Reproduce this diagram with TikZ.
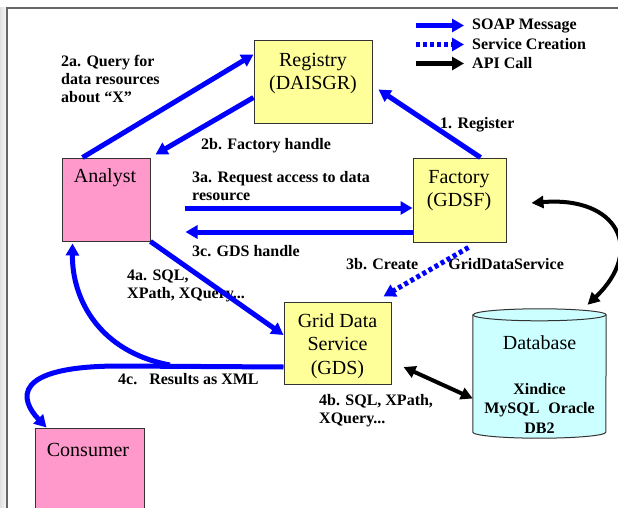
\documentclass[tikz,border=0pt]{standalone}
\usepackage{fontspec}
\setmainfont{Liberation Serif}
\usetikzlibrary{arrows.meta,positioning}
\definecolor{regyellow}{HTML}{FFFF99}
\definecolor{actpink}{HTML}{FF99CC}
\definecolor{dbcyan}{HTML}{CCFFFF}
\definecolor{soapblue}{HTML}{0000FF}

\tikzset{
  ybox/.style={draw=black!80, line width=1pt, fill=regyellow, inner sep=0pt},
  pbox/.style={draw=black!80, line width=1pt, fill=actpink, inner sep=0pt},
  boxtxt/.style={align=center, inner sep=0pt, font=\fontsize{20}{23}\selectfont},
  dbtxt/.style={align=center, inner sep=0pt, font=\bfseries\fontsize{16}{19.5}\selectfont},
  lbl/.style={align=left, inner sep=0pt, anchor=west, font=\bfseries\fontsize{16}{18}\selectfont},
  soap/.style={draw=soapblue, line width=5pt, -{Triangle[length=12pt,width=13pt]}},
  creation/.style={soap, dash pattern=on 4pt off 3pt},
  apicall/.style={draw=black, line width=4pt, {Triangle[length=12pt,width=12pt]}-{Triangle[length=12pt,width=12pt]}},
}

\begin{document}
\begin{tikzpicture}[x=1pt,y=-1pt]
\useasboundingbox (0,0) rectangle (618,508);
\shade[left color=black!12, right color=black!3] (0,8) rectangle (6.3,508);
\draw[black!60, line width=1.5pt] (618,8) -- (7,8) -- (7,508);

% boxes
\node[ybox, minimum width=118pt, minimum height=83pt] (reg) at (313,82.5) {};
\node[boxtxt] (regtxt) at (313,74) {Registry\\(DAISGR)};

\node[pbox, minimum width=88pt, minimum height=83pt] (ana) at (106,199.5) {};
\node[boxtxt] (anatxt) at (105,178) {Analyst};

\node[ybox, minimum width=93pt, minimum height=84pt] (fac) at (459.5,200) {};
\node[boxtxt] (factxt) at (459,191) {Factory\\(GDSF)};

\node[ybox, minimum width=107pt, minimum height=82pt] (gds) at (337.5,343) {};
\node[boxtxt, font=\fontsize{20}{23.5}\selectfont] (gdstxt) at (337.5,346) {Grid Data\\Service\\(GDS)};

\node[pbox, minimum width=109pt, minimum height=92pt] (con) at (89.5,474) {};
\node[boxtxt] (contxt) at (88,450) {Consumer};

% database
\node[minimum width=133pt, minimum height=129pt, inner sep=0pt] (db) at (539.5,373.5) {};
\path[draw=black!80, line width=1pt, fill=dbcyan] ([yshift=-6pt]db.north west) -- ([yshift=6pt]db.south west)
  arc[start angle=180, end angle=360, x radius=66.5pt, y radius=6pt] -- ([yshift=-6pt]db.north east)
  arc[start angle=0, end angle=180, x radius=66.5pt, y radius=6pt] -- cycle;
\draw[black!80, line width=1pt] ([yshift=-6pt]db.north west) arc[start angle=180, end angle=360, x radius=66.5pt, y radius=6pt];
\node[boxtxt] (dbtitle) at (539.5,343) {Database};
\node[dbtxt] (dbnames) at (539.5,408) {Xindice\\MySQL\hspace{9pt}Oracle\\DB2};

% labels
\node[lbl] (l2a) at (61,79) {2a. Query for\\data resources\\about “X"};
\node[lbl] (l2b) at (201,146) {2b. Factory handle};
\node[lbl] (l1) at (440,124.5) {1. Register};
\node[lbl] (l3a) at (192,186) {3a. Request access to data\\resource};
\node[lbl] (l3c) at (192,251.5) {3c. GDS handle};
\node[lbl] (l3b) at (346,264.5) {3b. Create\hspace{30pt}GridDataService};
\node[lbl] (l4a) at (127,285.5) {4a. SQL,\\XPath, XQuery...};
\node[lbl] (l4c) at (118,379.5) {4c.\hspace{12pt}Results as XML};
\node[lbl] (l4b) at (319,411) {4b. SQL, XPath,\\XQuery...};

% legend
\node[lbl] (lgsoap) at (472,25.5) {SOAP Message};
\node[lbl] (lgcre) at (472,44.5) {Service Creation};
\node[lbl] (lgapi) at (472,63.5) {API Call};
\coordinate (lgs) at (416,25.5);
\coordinate (lgc) at (416,44.5);
\coordinate (lga) at (416,63.5);
\draw[soap] (lgs) -- ([xshift=-8pt]lgsoap.west);
\draw[creation] (lgc) -- ([xshift=-8pt]lgcre.west);
\draw[draw=black, line width=5pt, -{Triangle[length=12pt,width=13pt]}] (lga) -- ([xshift=-8pt]lgapi.west);

% messages
\draw[soap] ([xshift=21pt]ana.north west) -- ([yshift=-14pt]reg.north west);
\draw[soap] ([yshift=-57pt]reg.north west) -- ([shift={(5pt,3pt)}]ana.north east);
\draw[soap] ([xshift=68pt]fac.north west) -- ([shift={(6pt,-49pt)}]reg.north east);
\draw[soap] ([shift={(34pt,-8.5pt)}]ana.east) -- ([yshift=-8pt]fac.west);
\draw[soap] ([yshift=-32pt]fac.west) -- ([shift={(35pt,-32.5pt)}]ana.east);
\draw[creation] ([shift={(-38pt,-5pt)}]fac.south east) -- ([shift={(-8pt,5pt)}]gds.north east);
\draw[soap] (ana.south east) -- ([yshift=8pt]gds.west);
\draw[soap] ([yshift=-24pt]gds.west) -- (120,366) .. controls (10,366) and (20,400) .. ([xshift=12pt]con.north west);
\coordinate (split) at (170,365);
\draw[soap] (split) .. controls (100,352) and (72,300) .. ([shift={(11pt,-2pt)}]ana.south west);

% api calls
\draw[apicall] ([shift={(25pt,-3pt)}]fac.east) .. controls (618,196) and (645,250) .. ([shift={(48pt,4pt)}]db.north);
\draw[apicall] ([shift={(12pt,-24pt)}]gds.east) -- ([yshift=-25pt]db.west);
\end{tikzpicture}
\end{document}
